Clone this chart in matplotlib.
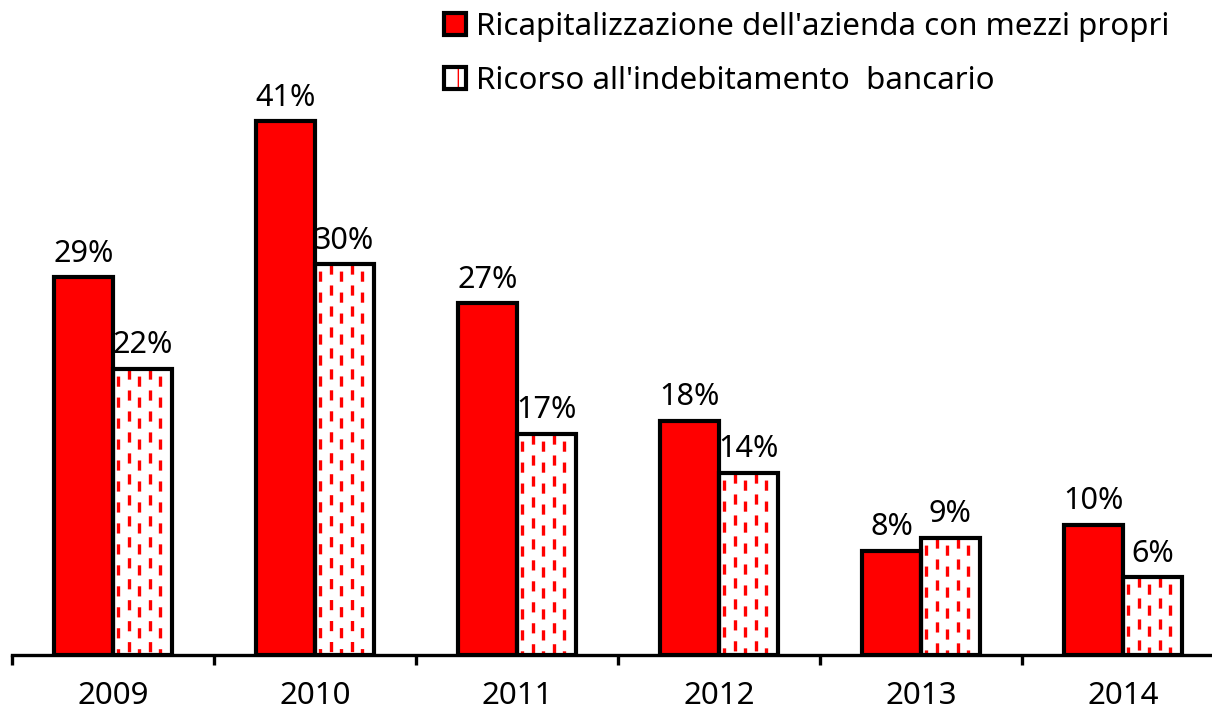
import numpy as np
import matplotlib.pyplot as plt
from matplotlib.patches import Patch

plt.rcParams['font.family'] = ['Noto Sans', 'DejaVu Sans']
plt.rcParams['lines.scale_dashes'] = False

# data
years = ['2009', '2010', '2011', '2012', '2013', '2014']
mezzi_propri = [29, 41, 27, 18, 8, 10]
indebitamento = [22, 30, 17, 14, 9, 6]
series_names = ["Ricapitalizzazione dell'azienda con mezzi propri",
                "Ricorso all'indebitamento  bancario"]

RED = '#FF0000'
width = 0.29
edge_lw = 3.0
fs = 22.5

fig = plt.figure(figsize=(12.12, 7.11), dpi=100)
ax = fig.add_axes([12 / 1212, 56 / 711, 1.0, 655 / 711])

x = np.arange(len(years))
x_red = x - width / 2
x_pat = x + width / 2

ax.bar(x_red, mezzi_propri, width, color=RED, edgecolor='black',
       linewidth=edge_lw, zorder=3)
pat_bars = ax.bar(x_pat, indebitamento, width, color='white',
                  edgecolor='none', zorder=2)

# dashed red pattern inside the second series
col_step = 0.052
for rect, h in zip(pat_bars, indebitamento):
    left = rect.get_x()
    for k in range(5):
        cx = left + 0.025 + k * col_step
        offset = 0 if k % 2 else 10
        ln, = ax.plot([cx, cx], [h, 0], color=RED, lw=2.4,
                      linestyle=(offset, (7.3, 7.8)), solid_capstyle='butt',
                      zorder=2.5)
        ln.set_clip_path(rect)
ax.bar(x_pat, indebitamento, width, fill=False, edgecolor='black',
       linewidth=edge_lw, zorder=3)

for xs, vals in ((x_red, mezzi_propri), (x_pat, indebitamento)):
    for xi, v in zip(xs, vals):
        ax.annotate(f'{v}%', (xi, v), xytext=(0, 6), textcoords='offset points',
                    ha='center', va='bottom', fontsize=fs - 0.5)

ax.set_xlim(-0.5, 5.5)
ax.set_ylim(0, 50.3)
ax.set_yticks([])
for s in ('top', 'right', 'left'):
    ax.spines[s].set_visible(False)
ax.spines['bottom'].set_linewidth(2.4)
ax.spines['bottom'].set_zorder(4)

ax.set_xticks(x)
ax.set_xticklabels(years, fontsize=fs)
ax.set_xticks(np.arange(-0.5, 6.0, 1.0), minor=True)
ax.tick_params(axis='x', which='major', length=0, pad=19)
ax.tick_params(axis='x', which='minor', length=7, width=2.4, direction='out')

h_red = Patch(facecolor=RED, edgecolor='black', linewidth=edge_lw)
h_pat_fill = Patch(facecolor='white', edgecolor=RED, linewidth=0, hatch='|')
h_pat_edge = Patch(fill=False, edgecolor='black', linewidth=edge_lw)
leg = ax.legend([h_red, (h_pat_fill, h_pat_edge)], series_names,
                loc='upper right', bbox_to_anchor=(1172 / 1212, 1 - 9 / 711),
                bbox_transform=fig.transFigure, frameon=False, fontsize=fs,
                handlelength=0.7, handleheight=0.7, handletextpad=0.3,
                labelspacing=0.75, borderaxespad=0.0, borderpad=0.1)

fig.savefig('out.png', dpi=100)
